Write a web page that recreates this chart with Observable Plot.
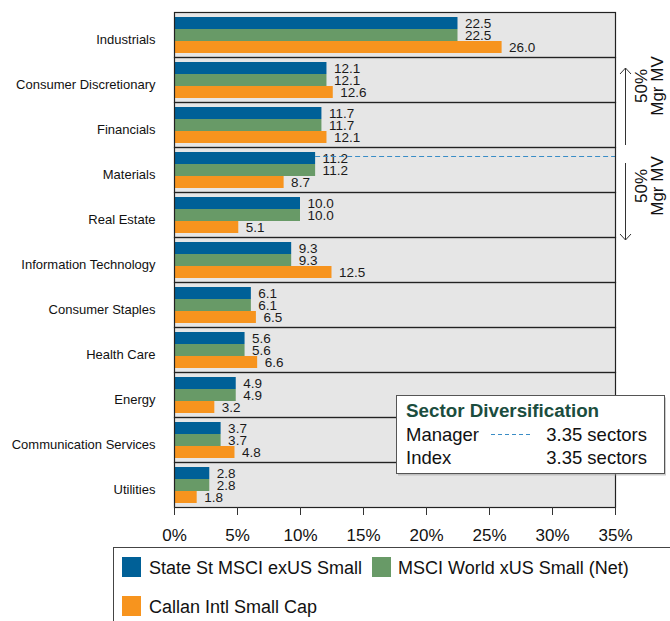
<!DOCTYPE html>
<html><head><meta charset="utf-8">
<script src="https://cdn.jsdelivr.net/npm/d3@7"></script>
<script src="https://cdn.jsdelivr.net/npm/@observablehq/plot@0.6"></script>
<style>body{margin:0;background:#fff;font-family:Arial,"Liberation Sans",sans-serif}</style>
</head><body><div id="chart"></div>
<script>
const categories = ["Industrials","Consumer Discretionary","Financials","Materials","Real Estate","Information Technology","Consumer Staples","Health Care","Energy","Communication Services","Utilities"];
const seriesNames = ["State St MSCI exUS Small","MSCI World xUS Small (Net)","Callan Intl Small Cap"];
const stateSt = [22.5,12.1,11.7,11.2,10.0,9.3,6.1,5.6,4.9,3.7,2.8];
const msciWorld = [22.5,12.1,11.7,11.2,10.0,9.3,6.1,5.6,4.9,3.7,2.8];
const callan = [26.0,12.6,12.1,8.7,5.1,12.5,6.5,6.6,3.2,4.8,1.8];
const colors = ["#006097","#689a67","#f7941e"];
const xTicks = [0,5,10,15,20,25,30,35];
const managerHalf = [{category:"Materials", value:11.2}];
const diversificationTitle = "Sector Diversification";
const diversificationRows = [{label:"Manager", value:"3.35 sectors"},{label:"Index", value:"3.35 sectors"}];
const annotationLines = ["50%","Mgr MV"];

const rows = [];
categories.forEach((c,i)=>{
  [stateSt,msciWorld,callan].forEach((arr,j)=>rows.push({category:c, series:seriesNames[j], value:arr[i]}));
});

const font = "Arial, 'Liberation Sans', sans-serif";
const plot = Plot.plot({
  width:670, height:621, marginTop:11, marginBottom:114, marginLeft:174, marginRight:55,
  style:{fontFamily:font, fontSize:"13px", color:"#111", background:"#fff"},
  x:{domain:[0,35], label:null},
  y:{domain:seriesNames, paddingInner:0, paddingOuter:0.26, axis:null},
  fy:{domain:categories, padding:0, label:null},
  color:{domain:seriesNames, range:colors},
  marks:[
    Plot.frame({fill:"#e6e6e6"}),
    Plot.barX(rows,{fy:"category", y:"series", x:"value", fill:"series"}),
    Plot.text(rows,{fy:"category", y:"series", x:"value", text:d=>d.value.toFixed(1), textAnchor:"start", dx:7, fontSize:13.5, fill:"#1a1a1a"}),
    Plot.ruleY(managerHalf,{fy:"category", y:()=>seriesNames[0], x1:"value", x2:()=>35, stroke:"#3a8dc6", strokeDasharray:"5,3", dy:-2}),
    Plot.frame({stroke:"#222", strokeWidth:1.2}),
    Plot.axisX({ticks:xTicks, tickFormat:d=>d+"%", fontSize:17, tickSize:8, tickPadding:13, label:null, stroke:"#333"}),
    Plot.axisFy({anchor:"left", fontSize:13, tickSize:0, tickPadding:19, dy:5, label:null})
  ]
});
document.getElementById("chart").appendChild(plot);

const svg = d3.select(plot);
const g = svg.append("g").attr("font-family", font).attr("text-anchor","start");

// right-side arrows
function arrow(y1, y2, headTop){
  g.append("line").attr("x1",625.5).attr("x2",625.5).attr("y1",y1).attr("y2",y2).attr("stroke","#333");
  const hy = headTop ? y1 : y2, s = headTop ? 1 : -1;
  g.append("path").attr("d",`M620,${hy+6*s}L625.5,${hy}L631,${hy+6*s}`).attr("fill","none").attr("stroke","#333");
}
arrow(68,145,true);
arrow(163,240,false);
[86,186].forEach(cy=>{
  g.append("text").attr("transform",`translate(647,${cy}) rotate(-90)`).attr("text-anchor","middle").attr("font-size",17).attr("fill","#111").text(annotationLines[0]);
  g.append("text").attr("transform",`translate(663,${cy}) rotate(-90)`).attr("text-anchor","middle").attr("font-size",17).attr("fill","#111").text(annotationLines[1]);
});

// sector diversification box
const bx = g.append("g");
bx.append("rect").attr("x",398).attr("y",397.5).attr("width",268).attr("height",78).attr("fill","#999").attr("opacity",0.5);
bx.append("rect").attr("x",396.5).attr("y",395.5).attr("width",268).attr("height",78).attr("fill","#fff").attr("stroke","#555");
bx.append("text").attr("x",406).attr("y",417).attr("font-size",18.8).attr("font-weight","bold").attr("fill","#1b4d3e").text(diversificationTitle);
diversificationRows.forEach((r,i)=>{
  const y = 441 + i*23;
  bx.append("text").attr("x",406).attr("y",y).attr("font-size",18.5).attr("fill","#111").text(r.label);
  bx.append("text").attr("x",647).attr("y",y).attr("text-anchor","end").attr("font-size",18.5).attr("fill","#111").text(r.value);
});
bx.append("line").attr("x1",491).attr("x2",533).attr("y1",434.5).attr("y2",434.5).attr("stroke","#3a8dc6").attr("stroke-dasharray","4,3");

// bottom legend
const lg = g.append("g");
lg.append("rect").attr("x",113.5).attr("y",547.5).attr("width",600).attr("height",90).attr("fill","#fff").attr("stroke","#444");
const legendPos = [[122,557,149],[372,557,398],[122,596,149]];
seriesNames.forEach((s,i)=>{
  const [sx,sy,tx] = legendPos[i];
  lg.append("rect").attr("x",sx).attr("y",sy).attr("width",19).attr("height",20).attr("fill",colors[i]);
  lg.append("text").attr("x",tx).attr("y",sy+17).attr("font-size",18).attr("fill","#111").text(s);
});
</script></body></html>
